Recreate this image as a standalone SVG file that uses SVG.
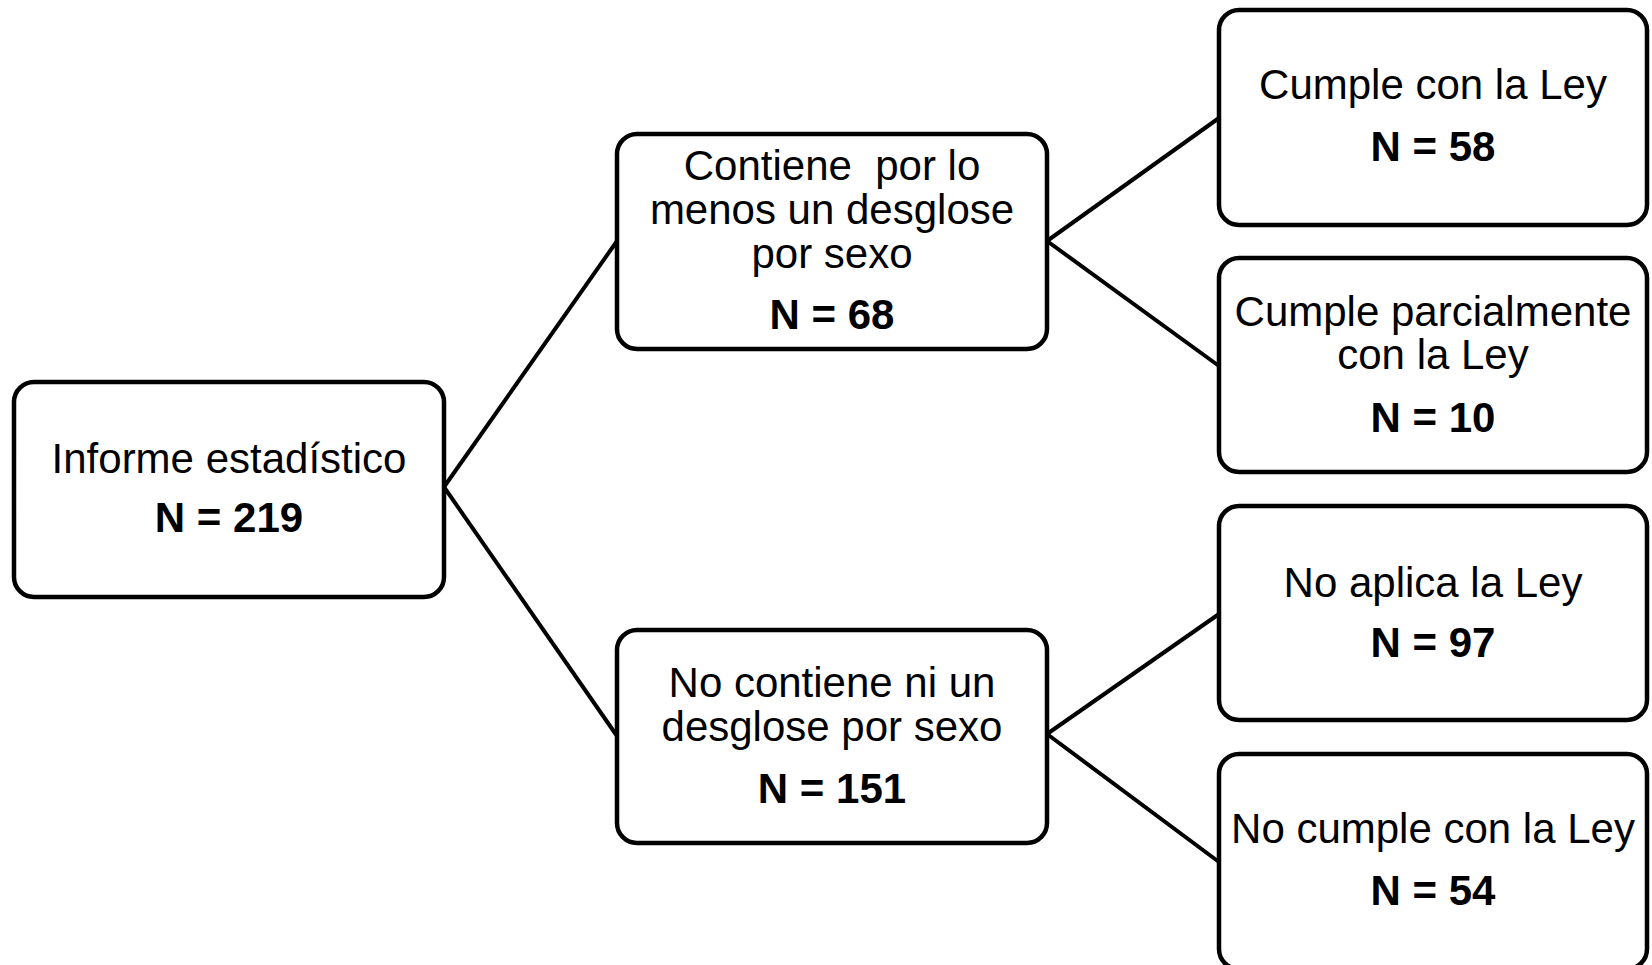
<svg xmlns="http://www.w3.org/2000/svg" width="1652" height="965" viewBox="0 0 1652 965">
<style>
.box{fill:#fff;stroke:#000;stroke-width:4.5}
.t{font-family:"Liberation Sans",Arial,sans-serif;font-size:42px;fill:#000;text-anchor:middle}
.b{font-weight:bold}
.c{stroke:#000;stroke-width:4;fill:none}
</style>
<rect width="1652" height="965" fill="#fff"/>
<g id="connectors">
<line class="c" x1="444" y1="487" x2="617" y2="241"/>
<line class="c" x1="444" y1="487" x2="617" y2="736"/>
<line class="c" x1="1047" y1="241" x2="1219" y2="118"/>
<line class="c" x1="1047" y1="241" x2="1219" y2="366"/>
<line class="c" x1="1047" y1="734" x2="1219" y2="614"/>
<line class="c" x1="1047" y1="734" x2="1219" y2="862"/>
</g>
<g id="root">
<rect class="box" x="14" y="382" width="430" height="215" rx="20"/>
<text class="t" x="229" y="473">Informe estadístico</text>
<text class="t b" x="229" y="532">N = 219</text>
</g>
<g id="contiene">
<rect class="box" x="617" y="134" width="430" height="215" rx="20"/>
<text class="t" x="832" y="180" xml:space="preserve">Contiene  por lo</text>
<text class="t" x="832" y="224">menos un desglose</text>
<text class="t" x="832" y="268">por sexo</text>
<text class="t b" x="832" y="329">N = 68</text>
</g>
<g id="nocontiene">
<rect class="box" x="617" y="630" width="430" height="213" rx="20"/>
<text class="t" x="832" y="697">No contiene ni un</text>
<text class="t" x="832" y="741">desglose por sexo</text>
<text class="t b" x="832" y="803">N = 151</text>
</g>
<g id="cumple">
<rect class="box" x="1219" y="10" width="428" height="215" rx="20"/>
<text class="t" x="1433" y="99">Cumple con la Ley</text>
<text class="t b" x="1433" y="161">N = 58</text>
</g>
<g id="parcial">
<rect class="box" x="1219" y="258" width="428" height="214" rx="20"/>
<text class="t" x="1433" y="326">Cumple parcialmente</text>
<text class="t" x="1433" y="369">con la Ley</text>
<text class="t b" x="1433" y="432">N = 10</text>
</g>
<g id="noaplica">
<rect class="box" x="1219" y="506" width="428" height="214" rx="20"/>
<text class="t" x="1433" y="597">No aplica la Ley</text>
<text class="t b" x="1433" y="657">N = 97</text>
</g>
<g id="nocumple">
<rect class="box" x="1219" y="754" width="428" height="215" rx="20"/>
<text class="t" x="1433" y="843">No cumple con la Ley</text>
<text class="t b" x="1433" y="905">N = 54</text>
</g>
</svg>
